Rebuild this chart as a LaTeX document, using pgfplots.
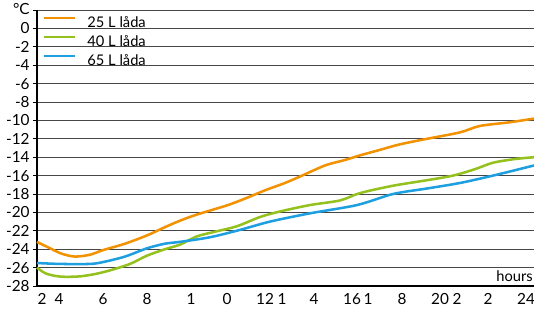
\documentclass[border=0pt]{standalone}
\usepackage{pgfplots}
\pgfplotsset{compat=1.18}
\usepackage{fontspec}
\setmainfont{Lato}
\definecolor{c25}{HTML}{F39200}
\definecolor{c40}{HTML}{95C11F}
\definecolor{c65}{HTML}{1EA0E0}
\begin{document}
\begin{tikzpicture}[x=0.75pt,y=0.75pt]
\begin{axis}[
  at={(27.75pt,16.5pt)}, anchor=south west,
  scale only axis, width=372.75pt, height=207pt,
  xmin=37, xmax=534, ymin=-28, ymax=2,
  axis lines=left, axis line style={-, black, line width=0.8pt},
  ytick={-28,-26,...,2},
  yticklabels={-28,-26,-24,-22,-20,-18,-16,-14,-12,-10,-8,-6,-4,-2,0,{\raisebox{2pt}{°C}}},
  xtick={42,59,103,147,191,227,265,282,314,352,368,402,440,457,488,526},
  xticklabels={2,4,6,8,1,0,12,1,4,16,1,8,20,2,2,24},
  xtick style={draw=none},
  ytick style={black, line width=0.6pt},
  tick align=outside, major tick length=3pt,
  ymajorgrids, grid style={black!72, line width=0.6pt},
  tick label style={font=\fontsize{11.5}{13}\selectfont},
  yticklabel style={xshift=1pt},
  xticklabel style={yshift=1pt},
  /pgf/number format/assume math mode=true,
  legend style={at={(axis cs:42,1.32)}, anchor=north west, draw=none, fill=none,
    font=\fontsize{11}{13}\selectfont, row sep=4.25pt, inner sep=0pt,
    nodes={inner sep=0pt, text height=8pt, text depth=2pt}},
  legend cell align=left,
  legend image code/.code={\draw[#1] (0pt,4pt) -- (23.5pt,4pt);},
  clip=false,
]
\addplot[c25, line width=1.9pt, smooth, tension=0.5] coordinates {
(37,-23.2) (50,-23.9) (62,-24.5) (75,-24.8) (90,-24.6) (103,-24.1) (125,-23.4)
(147,-22.5) (165,-21.6) (180,-20.9) (195,-20.3) (210,-19.8) (228,-19.2) (245,-18.5)
(265,-17.6) (285,-16.8) (300,-16.1) (325,-14.9) (345,-14.3) (360,-13.8) (380,-13.2)
(400,-12.6) (427,-12.0) (460,-11.3) (480,-10.6) (510,-10.2) (534,-9.8)};
\addlegendentry{\hspace{8.5pt}25 L låda}
\addplot[c40, line width=1.9pt, smooth, tension=0.5] coordinates {
(37,-26) (45,-26.6) (55,-26.9) (65,-27.0) (80,-26.95) (95,-26.7) (110,-26.3)
(130,-25.6) (147,-24.7) (165,-24.0) (180,-23.5) (197,-22.6) (215,-22.1) (237,-21.5)
(260,-20.5) (280,-19.9) (310,-19.2) (340,-18.7) (360,-17.9) (393,-17.1) (427,-16.5)
(453,-16.0) (475,-15.3) (493,-14.6) (515,-14.2) (534,-14.0)};
\addlegendentry{\hspace{8.5pt}40 L låda}
\addplot[c65, line width=1.9pt, smooth, tension=0.5] coordinates {
(37,-25.5) (60,-25.6) (90,-25.6) (103,-25.4) (125,-24.8) (147,-23.9) (165,-23.4)
(180,-23.2) (210,-22.7) (240,-21.9) (270,-21.0) (310,-20.1) (357,-19.2) (393,-18.0)
(427,-17.4) (460,-16.8) (493,-16.0) (534,-14.9)};
\addlegendentry{\hspace{8.5pt}65 L låda}
\node[anchor=south east, font=\fontsize{11}{13}\selectfont, inner sep=0pt] at (axis cs:533,-27.6) {hours};
\end{axis}
\pgfresetboundingbox
\path[use as bounding box] (0pt,0pt) rectangle (400.5pt,231pt);
\end{tikzpicture}
\end{document}
